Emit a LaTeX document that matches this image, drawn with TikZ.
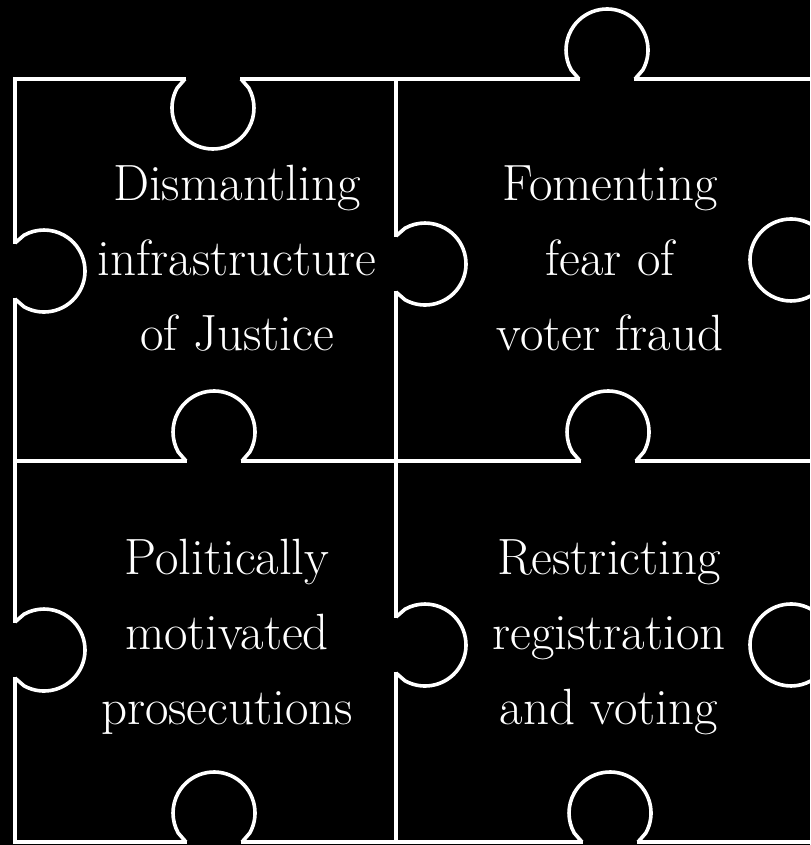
\documentclass[tikz,border=0pt]{standalone}
\usepackage{fontspec}
\usepackage{tikz}
\usetikzlibrary{positioning}

\begin{document}
\begin{tikzpicture}[x=0.5pt, y=-0.5pt, node distance={187.5pt},
    piece/.style={draw=white, line width=1.8pt},
    words/.style={text=white, align=center, font=\fontsize{25.5}{37.5}\selectfont},
    knob/.pic={
        \fill[black] (-27,-4) rectangle (27,4);
        \draw[piece] (-28,0) -- (-35.8,9) arc[start angle=209.2, end angle=-29.2, radius=41] -- (28,0);
    }]
    \useasboundingbox[fill=black] (0,0) rectangle (810,845);
    \clip (0,0) rectangle (810,845);
    % the four pieces
    \draw[piece] (15,79) rectangle (820,842);
    \draw[piece] (396,79) -- (396,842);
    \draw[piece] (15,461) -- (820,461);
    % tabs and blanks
    \foreach \x/\y/\turn in {213/79/0, 607/79/180, 214/461/180, 608/461/180,
        214/842/180, 610/842/180, 15/271/90, 15/650/90,
        396/264/90, 396/645/90, 820/260/-90, 820/645/-90}
        \pic[rotate=\turn] at (\x,\y) {knob};
    \node[words] (1) at (237,258) {Dismantling\\infrastructure\\of Justice};
    \node[words] (2) [right of=1, xshift=-1pt] {Fomenting\\fear of\\voter fraud};
    \node[words] (3) [below of=1, xshift=-5pt, yshift=-2pt] {Politically\\motivated\\prosecutions};
    \node[words] (4) [right of=3, xshift=3.5pt] {Restricting\\registration\\and voting};
\end{tikzpicture}
\end{document}
